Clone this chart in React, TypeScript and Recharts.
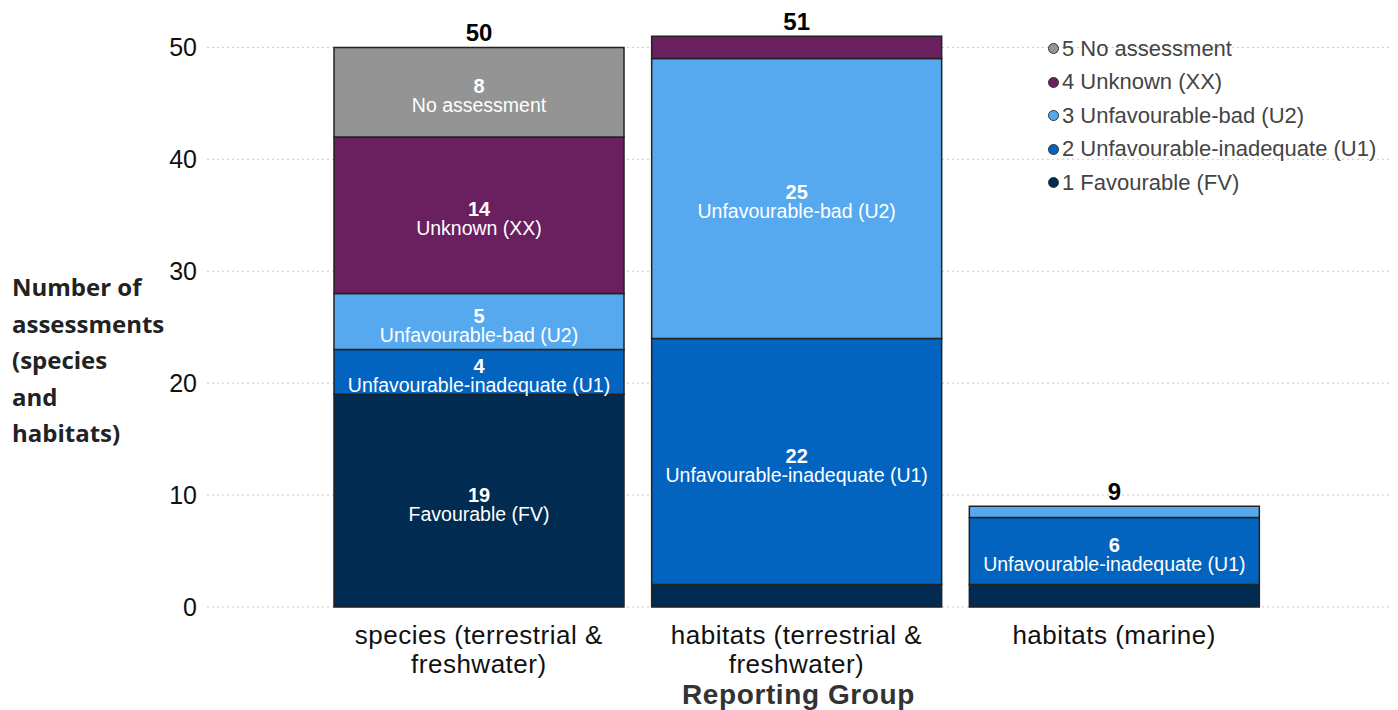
import React from 'react';
import {
  BarChart,
  Bar,
  XAxis,
  YAxis,
  CartesianGrid,
  Legend,
  LabelList,
  Label,
} from 'recharts';

// Reporting groups and counts per conservation status
const groups = [
  'species (terrestrial & freshwater)',
  'habitats (terrestrial & freshwater)',
  'habitats (marine)',
];
const groupLines = [
  ['species (terrestrial &', 'freshwater)'],
  ['habitats (terrestrial &', 'freshwater)'],
  ['habitats (marine)'],
];
const favourable = [19, 2, 2];
const inadequate = [4, 22, 6];
const bad = [5, 25, 1];
const unknown = [14, 2, 0];
const noAssessment = [8, 0, 0];
const yTicks = [0, 10, 20, 30, 40, 50];
const yMax = 52;

const series = [
  { key: 'fv', legend: '1 Favourable (FV)', short: 'Favourable (FV)', color: '#012b50' },
  { key: 'u1', legend: '2 Unfavourable-inadequate (U1)', short: 'Unfavourable-inadequate (U1)', color: '#0364bf' },
  { key: 'u2', legend: '3 Unfavourable-bad (U2)', short: 'Unfavourable-bad (U2)', color: '#57a9ef' },
  { key: 'xx', legend: '4 Unknown (XX)', short: 'Unknown (XX)', color: '#6a1f5f' },
  { key: 'na', legend: '5 No assessment', short: 'No assessment', color: '#949494' },
];

const data = groups.map((g, i) => ({
  group: g,
  fv: favourable[i],
  u1: inadequate[i],
  u2: bad[i],
  xx: unknown[i],
  na: noAssessment[i],
  total: favourable[i] + inadequate[i] + bad[i] + unknown[i] + noAssessment[i],
}));

// which series is the top non-empty segment of each bar (carries the total)
const topKey = data.map((d: any) => {
  let k = series[0].key;
  series.forEach((s) => {
    if (d[s.key] > 0) k = s.key;
  });
  return k;
});

const axisFont = '"Liberation Sans", Arial, sans-serif';

const makeSegmentLabel = (name: string) => (props: any) => {
  const { x, y, width, height, value } = props;
  if (!value || value < 4) return null;
  const cx = x + width / 2;
  const cy = y + height / 2;
  return (
    <g fontFamily={axisFont} fill="#fff" textAnchor="middle">
      <text x={cx} y={cy - 6} fontSize={20} fontWeight="bold" dominantBaseline="central" fill="#fff">
        {value}
      </text>
      <text x={cx} y={cy + 13} fontSize={19.5} dominantBaseline="central" fill="#fff">
        {name}
      </text>
    </g>
  );
};

const makeTotalLabel = (key: string) => (props: any) => {
  const { x, y, width, value, index } = props;
  if (topKey[index] !== key) return null;
  return (
    <text
      x={x + width / 2}
      y={y - 15}
      textAnchor="middle"
      dominantBaseline="central"
      fontFamily={axisFont}
      fontSize={24}
      fontWeight="bold"
      fill="#000"
    >
      {value}
    </text>
  );
};

const GroupTick = (props: any) => {
  const { x, y, index } = props;
  const lines = groupLines[index] || [];
  return (
    <text x={x} y={y} textAnchor="middle" fontFamily={axisFont} fontSize={26} letterSpacing={0.5} fill="#111">
      {lines.map((l, i) => (
        <tspan key={i} x={x} y={y + 29 + i * 29}>
          {l}
        </tspan>
      ))}
    </text>
  );
};

const AxisTitle = (props: any) => {
  const { viewBox } = props;
  return (
    <text
      x={viewBox.x + viewBox.width / 2}
      y={viewBox.y + 97}
      textAnchor="middle"
      fontFamily={axisFont}
      fontSize={28}
      fontWeight="bold"
      letterSpacing={0.6}
      fill="#333"
    >
      Reporting Group
    </text>
  );
};

const renderLegend = () => (
  <div style={{ fontFamily: axisFont, fontSize: 22, color: '#444' }}>
    {[...series].reverse().map((s) => (
      <div key={s.key} style={{ display: 'flex', alignItems: 'center', height: 33.5 }}>
        <span
          style={{
            display: 'inline-block',
            width: 9,
            height: 9,
            borderRadius: '50%',
            background: s.color,
            border: '1.5px solid #333',
            marginRight: 3,
          }}
        />
        {s.legend}
      </div>
    ))}
  </div>
);

export default function App() {
  return (
    <div style={{ position: 'absolute', left: 0, top: 0, width: 1398, height: 710, background: '#fff' }}>
      <BarChart
        width={1398}
        height={710}
        data={data}
        margin={{ top: 25, right: 8, left: 0, bottom: 0 }}
        barSize={290}
      >
        <CartesianGrid
          vertical={false}
          stroke="#c8c8c8"
          strokeDasharray="2 3"
          horizontalCoordinatesGenerator={({ offset }: any) =>
            yTicks.map((t) => offset.top + offset.height * (1 - t / yMax))
          }
        />
        <XAxis
          dataKey="group"
          height={103}
          axisLine={false}
          tickLine={false}
          interval={0}
          padding={{ left: 113, right: 117 }}
          tick={<GroupTick />}
        >
          <Label content={AxisTitle} />
        </XAxis>
        <YAxis
          width={207}
          domain={[0, yMax]}
          ticks={yTicks}
          axisLine={false}
          tickLine={false}
          tickMargin={4}
          tick={{ fontFamily: axisFont, fontSize: 25, fill: '#111' }}
        />
        <Legend
          verticalAlign="middle"
          align="center"
          layout="horizontal"
          content={renderLegend}
          wrapperStyle={{ top: 32, left: 1048, width: 350 }}
        />
        {series.map((s) => (
          <Bar
            key={s.key}
            dataKey={s.key}
            stackId="a"
            fill={s.color}
            stroke="#222"
            strokeWidth={1.5}
            isAnimationActive={false}
          >
            <LabelList dataKey={s.key} content={makeSegmentLabel(s.short)} />
            <LabelList dataKey="total" content={makeTotalLabel(s.key)} />
          </Bar>
        ))}
      </BarChart>
      <div
        style={{
          position: 'absolute',
          left: 12,
          top: 269,
          fontFamily: '"Open Sans", sans-serif',
          fontWeight: 'bold',
          fontSize: 24,
          lineHeight: '36.5px',
          color: '#222',
        }}
      >
        Number of
        <br />
        assessments
        <br />
        (species
        <br />
        and
        <br />
        habitats)
      </div>
    </div>
  );
}
